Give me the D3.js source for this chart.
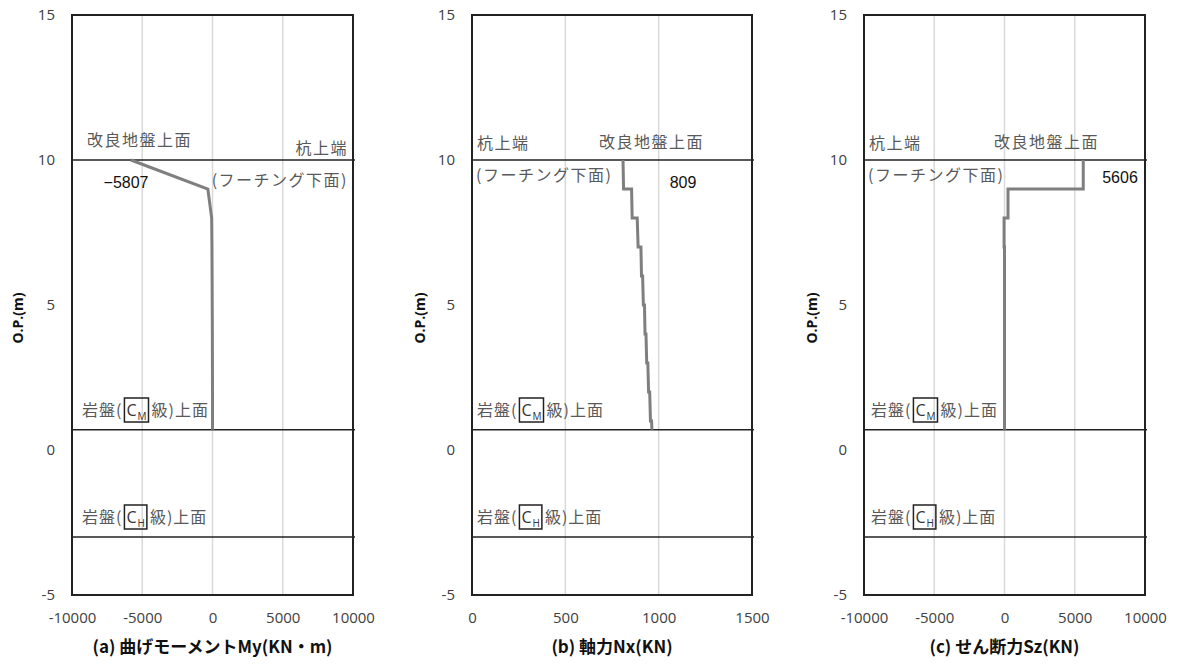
<!DOCTYPE html>
<html><head><meta charset="utf-8">
<script src="https://cdn.jsdelivr.net/npm/d3@7"></script>
<style>
body{margin:0;background:#fff;}
svg{display:block;font-family:"Noto Sans CJK JP","Noto Sans",sans-serif;}
</style></head>
<body>
<svg id="chart" width="1181" height="664"></svg>
<script>
// ---- data ----
const yTicks = [-5, 0, 5, 10, 15];
const levelPileTop = 10;     // 杭上端 / 改良地盤上面
const levelCM = 0.7;         // 岩盤(CM級)上面
const levelCH = -3.0;        // 岩盤(CH級)上面

const momentDepth = [10, 9, 8, 7, 6, 5, 4, 3, 2, 1, 0.7];
const momentValue = [-5807, -330, -60, -40, -30, -20, -10, -5, 0, 0, 0];

const axialDepth = [10, 9, 9, 8, 8, 7, 7, 6, 6, 5, 5, 4, 4, 3, 3, 2, 2, 1, 1, 0.7];
const axialValue = [809, 812, 855, 858, 885, 890, 905, 908, 914, 918, 924, 927, 932, 936, 942, 946, 952, 956, 962, 964];

const shearDepth = [10, 9, 9, 8, 8, 7, 7, 0.7];
const shearValue = [5606, 5606, 250, 250, -30, -30, 0, 0];

const ticksMS = [-10000, -5000, 0, 5000, 10000];
const ticksN = [0, 500, 1000, 1500];

const titles = ["(a) 曲げモーメントMy(KN・m)", "(b) 軸力Nx(KN)", "(c) せん断力Sz(KN)"];
const yTitle = "O.P.(m)";

// ---- layout ----
const svg = d3.select("#chart");
const plotTop = 15, plotBottom = 595;
const panels = [
  {left: 72, right: 353, domain: [-10000, 10000], ticks: ticksMS, depth: momentDepth, value: momentValue, title: titles[0],
   yTitleX: 18, peak: "−5807", peakPos: [126, 182], labelMode: "a"},
  {left: 472, right: 752, domain: [0, 1500], ticks: ticksN, depth: axialDepth, value: axialValue, title: titles[1],
   yTitleX: 420, peak: "809", peakPos: [683, 182], labelMode: "b"},
  {left: 864, right: 1145, domain: [-10000, 10000], ticks: ticksMS, depth: shearDepth, value: shearValue, title: titles[2],
   yTitleX: 812, peak: "5606", peakPos: [1120, 177], labelMode: "c"}
];

const y = d3.scaleLinear().domain([-5, 15]).range([plotBottom, plotTop]);
const annColor = "#595959";
const annFont = 16;
const fmt = d => String(d);   // plain hyphen minus, as in the reference

function rockLabel(g, x, yc, sub) {
  const t = g.append("text").attr("x", x).attr("y", yc).attr("dy", "0.35em")
    .attr("font-size", annFont).attr("fill", annColor).attr("letter-spacing", 1);
  t.append("tspan").text("岩盤(");
  t.append("tspan").attr("dx", 4).attr("fill", "#333").attr("font-family", "'Open Sans','Noto Sans',sans-serif").attr("font-size", 16).text("C");
  t.append("tspan").attr("fill", "#333").attr("font-family", "'Open Sans','Noto Sans',sans-serif").attr("font-size", 10).attr("dy", 4).text(sub);
  t.append("tspan").attr("dx", 4).attr("dy", -4).text("級)上面");
  const node = t.node();
  const e1 = node.getExtentOfChar(3), e2 = node.getExtentOfChar(4);
  g.append("rect").attr("x", e1.x - 2).attr("y", yc - 12)
    .attr("width", (e2.x + e2.width) - e1.x + 3).attr("height", 24)
    .attr("fill", "none").attr("stroke", "#222").attr("stroke-width", 1.5);
}

panels.forEach(p => {
  const x = d3.scaleLinear().domain(p.domain).range([p.left, p.right]);
  const g = svg.append("g");

  // vertical gridlines
  g.selectAll(".grid").data(p.ticks.slice(1, -1)).join("line")
    .attr("x1", d => x(d)).attr("x2", d => x(d)).attr("y1", plotTop).attr("y2", plotBottom)
    .attr("stroke", "#d9d9d9").attr("stroke-width", 1.5);

  // level lines
  g.selectAll(".lvl").data([levelPileTop, levelCM, levelCH]).join("line")
    .attr("x1", p.left).attr("x2", p.right + 2).attr("y1", d => y(d)).attr("y2", d => y(d))
    .attr("stroke", "#222").attr("stroke-width", 1.5);

  // data line
  const pts = p.depth.map((d, i) => [p.value[i], d]);
  g.append("path").datum(pts)
    .attr("d", d3.line().x(d => x(d[0])).y(d => y(d[1])))
    .attr("fill", "none").attr("stroke", "#7f7f7f").attr("stroke-width", 3);

  // frame
  g.append("rect").attr("x", p.left).attr("y", plotTop).attr("width", p.right - p.left).attr("height", plotBottom - plotTop)
    .attr("fill", "none").attr("stroke", "#222").attr("stroke-width", 2);

  // x axis tick labels
  const xAxis = d3.axisBottom(x).tickValues(p.ticks).tickSize(0).tickPadding(0).tickFormat(fmt);
  const xa = g.append("g").attr("transform", `translate(0,${plotBottom + 18})`).call(xAxis);
  xa.select(".domain").remove();
  xa.selectAll("text").attr("font-size", 15).attr("fill", "#404040")
    .attr("font-family", "'Open Sans','Noto Sans',sans-serif").attr("dy", "0.3em").attr("y", 5);

  // y axis tick labels
  const yAxis = d3.axisLeft(y).tickValues(yTicks).tickSize(0).tickPadding(0).tickFormat(fmt);
  const ya = g.append("g").attr("transform", `translate(${p.left - 17},0)`).call(yAxis);
  ya.select(".domain").remove();
  ya.selectAll("text").attr("font-size", 15).attr("fill", "#404040")
    .attr("font-family", "'Open Sans','Noto Sans',sans-serif");

  // x title
  g.append("text").attr("x", (p.left + p.right) / 2).attr("y", 647).attr("dy", "0.35em")
    .attr("text-anchor", "middle").attr("font-size", 17).attr("font-weight", "bold").attr("fill", "#111")
    .text(p.title);

  // y title
  g.append("text").attr("transform", `translate(${p.yTitleX},${318}) rotate(-90)`).attr("dy", "0.35em")
    .attr("text-anchor", "middle").attr("font-size", 14).attr("font-weight", "bold").attr("fill", "#111")
    .attr("font-family", "'Open Sans','Noto Sans',sans-serif")
    .text(yTitle);

  // annotations
  const ann = (tx, ty, s, anchor) => g.append("text").attr("x", tx).attr("y", ty).attr("dy", "0.35em")
    .attr("text-anchor", anchor || "start").attr("font-size", annFont).attr("fill", annColor)
    .attr("letter-spacing", 1.5).text(s);
  if (p.labelMode === "a") {
    ann(p.left + 15, 140, "改良地盤上面");
    ann(p.right - 5, 148, "杭上端", "end");
    ann(p.right - 5, 180, "(フーチング下面)", "end");
  } else {
    ann(p.left + 5, 143, "杭上端");
    ann(p.labelMode === "b" ? 599 : 994, 142, "改良地盤上面");
    ann(p.left + 4, 175, "(フーチング下面)");
  }
  g.append("text").attr("x", p.peakPos[0]).attr("y", p.peakPos[1]).attr("dy", "0.35em")
    .attr("text-anchor", "middle").attr("font-size", 16).attr("fill", "#111")
    .attr("font-family", "'Liberation Sans',Arial,sans-serif").text(p.peak);

  rockLabel(g, p.left + (p.labelMode === "a" ? 10 : (p.labelMode === "b" ? 5 : 7)), 410, "M");
  rockLabel(g, p.left + (p.labelMode === "a" ? 10 : (p.labelMode === "b" ? 5 : 7)), 517, "H");
});
</script>
</body></html>
